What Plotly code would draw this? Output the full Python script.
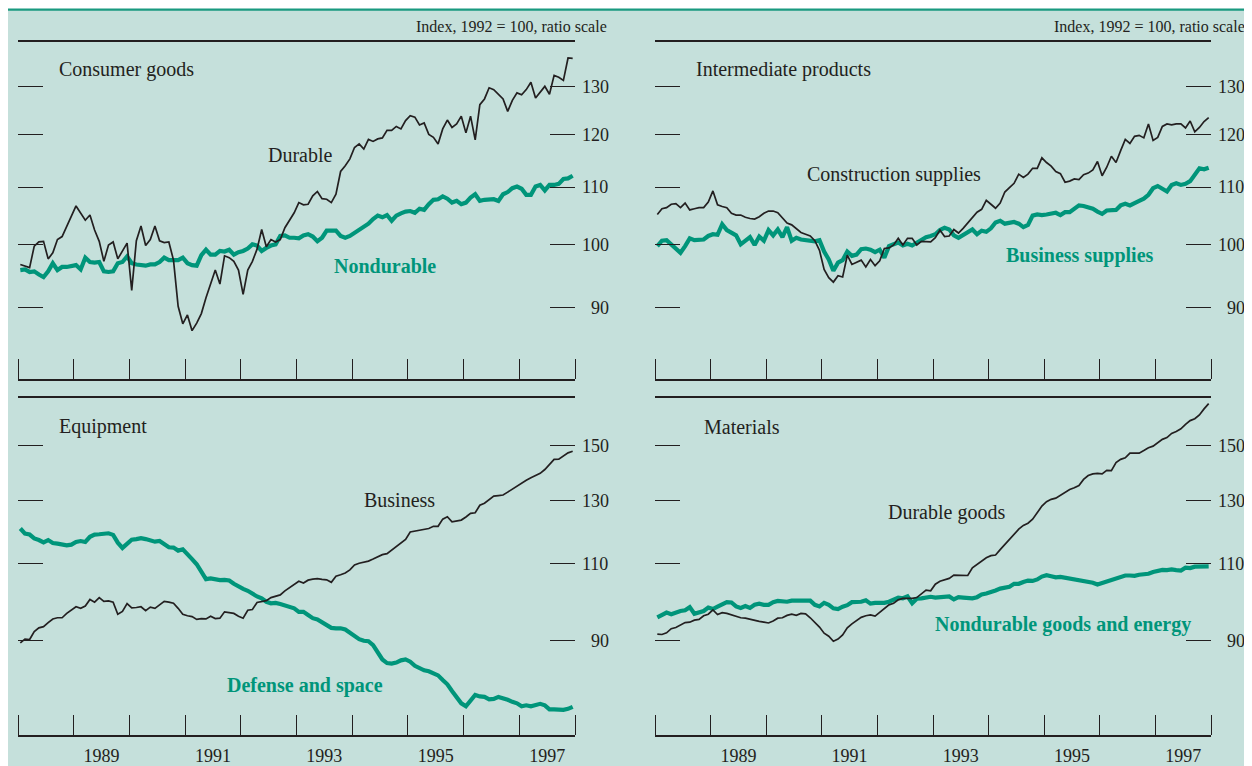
import math
import plotly.graph_objects as go

# The page body adds an 8 px white margin; the figure fills the rest of the window.
OFF = 8
W, H = 1252 - OFF, 766 - OFF

# ---------------- data (monthly, Jan 1988 - Dec 1997, index 1992=100) ----------------
consumer_durable = [
    96.7, 96.4, 96.2, 99.7, 100.4, 100.5, 97.6, 98.6, 100.8, 101.3,
    103.2, 104.8, 106.6, 105.4, 104.1, 105.0, 102.4, 100.5, 97.2, 99.9,
    100.4, 97.6, 99.0, 100.2, 92.6, 100.6, 103.1, 99.8, 100.8, 103.1,
    100.6, 100.3, 100.4, 97.4, 90.2, 87.6, 88.9, 86.6, 87.7, 89.1,
    91.5, 93.8, 95.8, 93.6, 98.1, 97.8, 97.2, 95.8, 92.0, 95.8,
    97.2, 99.2, 102.5, 99.6, 100.8, 100.4, 100.8, 102.8, 104.0, 105.4,
    107.2, 106.8, 106.9, 108.4, 109.2, 107.9, 107.8, 107.2, 108.7, 112.9,
    114.0, 115.3, 117.5, 118.2, 117.2, 119.1, 118.7, 119.2, 119.4, 120.9,
    120.9, 121.7, 121.2, 122.9, 123.9, 123.6, 122.0, 122.4, 120.1, 119.5,
    118.2, 121.2, 123.0, 121.5, 122.2, 123.8, 120.4, 123.8, 119.0, 126.2,
    127.4, 129.8, 129.4, 128.5, 127.4, 124.8, 127.1, 128.7, 128.3, 129.4,
    131.0, 127.6, 128.9, 130.1, 128.4, 132.5, 132.1, 131.4, 136.4, 136.3,
]
consumer_nondurable = [
    95.8, 95.9, 95.5, 95.6, 95.1, 94.7, 95.6, 96.9, 95.8, 96.3,
    96.3, 96.5, 96.6, 95.9, 97.8, 97.1, 97.0, 97.1, 95.6, 95.5,
    95.6, 96.9, 97.1, 98.0, 96.9, 96.7, 96.6, 96.5, 96.7, 96.7,
    97.1, 97.8, 97.4, 97.4, 97.4, 97.8, 96.9, 96.6, 96.5, 98.2,
    99.1, 98.3, 98.3, 98.9, 98.8, 99.1, 98.3, 98.7, 98.9, 99.3,
    100.0, 99.8, 98.9, 99.4, 99.8, 100.0, 101.4, 101.5, 101.1, 101.1,
    101.0, 101.5, 101.7, 101.3, 100.5, 101.1, 102.3, 102.3, 102.3, 101.4,
    101.1, 101.4, 101.9, 102.4, 103.1, 103.5, 104.3, 104.9, 104.6, 105.0,
    104.0, 104.9, 105.3, 105.6, 105.7, 105.4, 106.1, 105.9, 106.9, 107.7,
    107.8, 108.3, 107.9, 107.2, 107.5, 106.9, 107.2, 108.1, 108.7, 107.5,
    107.7, 107.8, 107.8, 107.5, 108.7, 109.1, 109.8, 110.1, 109.7, 108.6,
    108.6, 110.1, 110.4, 109.4, 110.4, 110.4, 110.6, 111.5, 111.6, 112.1,
]
construction_supplies = [
    105.1, 106.1, 106.3, 106.9, 107.0, 106.3, 107.1, 105.9, 106.1, 106.3,
    106.3, 107.3, 109.3, 106.8, 106.5, 106.3, 105.3, 105.0, 105.0, 104.6,
    104.4, 104.3, 104.7, 105.3, 105.7, 105.7, 105.4, 104.4, 103.6, 103.3,
    102.7, 102.0, 101.7, 101.4, 100.6, 99.0, 95.9, 94.6, 93.9, 94.9,
    94.7, 98.2, 96.7, 97.1, 97.4, 96.3, 97.5, 96.5, 97.3, 99.3,
    99.4, 99.9, 101.0, 99.9, 101.0, 101.0, 99.9, 100.5, 100.5, 100.4,
    101.1, 102.4, 101.3, 101.4, 102.5, 101.9, 102.7, 103.6, 104.5, 105.5,
    106.0, 107.6, 106.9, 106.2, 107.1, 109.1, 109.9, 110.7, 112.4, 111.8,
    112.4, 113.5, 113.5, 115.5, 114.6, 113.9, 112.9, 112.5, 110.9, 111.1,
    111.5, 111.4, 112.3, 112.6, 113.2, 114.8, 112.1, 113.7, 115.8, 114.6,
    116.9, 119.1, 118.3, 119.7, 119.9, 119.4, 122.2, 118.9, 119.5, 121.7,
    122.2, 122.0, 122.2, 122.2, 121.4, 122.8, 120.6, 121.5, 122.7, 123.5,
]
business_supplies = [
    99.7, 100.6, 100.7, 100.0, 99.2, 98.6, 99.7, 101.0, 100.7, 100.7,
    100.8, 101.4, 101.7, 101.6, 103.4, 102.4, 101.9, 101.5, 100.0, 100.5,
    101.2, 99.9, 101.3, 100.6, 102.4, 101.5, 102.5, 101.2, 102.9, 100.6,
    101.1, 100.8, 100.7, 100.6, 100.5, 100.7, 98.8, 97.5, 95.7, 97.0,
    97.4, 98.8, 98.1, 98.3, 99.2, 99.3, 99.1, 98.7, 99.1, 97.8,
    99.7, 100.0, 100.3, 99.8, 100.1, 99.8, 100.3, 100.8, 101.2, 101.4,
    101.7, 102.4, 102.8, 102.5, 101.5, 101.1, 101.5, 101.9, 102.5, 101.7,
    102.3, 102.1, 102.7, 103.7, 104.0, 103.5, 103.7, 103.8, 103.5, 102.9,
    103.3, 104.9, 105.1, 105.0, 105.1, 105.2, 105.4, 105.0, 105.5, 105.5,
    106.0, 106.7, 106.6, 106.3, 106.1, 105.6, 105.2, 105.8, 105.9, 105.9,
    106.7, 107.0, 106.7, 107.0, 107.5, 107.9, 108.6, 109.8, 110.2, 109.7,
    109.2, 110.4, 110.7, 110.4, 110.6, 111.1, 112.2, 113.5, 113.3, 113.6,
]
equipment_business = [
    89.4, 90.3, 90.2, 92.1, 93.0, 93.3, 94.3, 95.2, 95.5, 95.5,
    96.6, 97.5, 98.3, 97.9, 98.5, 100.2, 99.5, 100.7, 99.7, 99.8,
    99.5, 96.4, 97.1, 99.1, 98.0, 98.1, 98.3, 97.3, 98.2, 97.9,
    98.8, 99.7, 99.5, 99.2, 97.9, 96.4, 96.0, 95.8, 95.1, 95.3,
    95.2, 95.9, 95.3, 95.4, 97.0, 96.8, 96.6, 95.9, 95.4, 97.4,
    97.6, 99.4, 99.6, 99.9, 100.7, 101.0, 101.4, 102.5, 103.4, 104.1,
    105.1, 104.6, 105.4, 105.7, 105.8, 105.6, 105.5, 104.8, 106.5, 106.9,
    107.4, 108.3, 109.7, 110.2, 110.5, 110.8, 111.4, 112.0, 112.7, 113.0,
    114.1, 115.2, 116.2, 117.3, 119.6, 119.9, 120.3, 120.4, 120.7, 121.4,
    121.4, 123.7, 124.5, 122.8, 123.0, 123.4, 124.4, 125.6, 125.8, 128.3,
    129.0, 130.3, 131.4, 131.6, 131.8, 132.8, 133.9, 134.9, 136.0, 137.0,
    137.9, 138.6, 139.5, 140.9, 142.9, 144.7, 144.8, 146.1, 147.2, 147.8,
]
defense_space = [
    120.7, 119.1, 118.8, 117.6, 117.1, 116.4, 117.1, 116.2, 116.0, 115.8,
    115.5, 115.7, 116.5, 116.8, 116.5, 118.1, 118.8, 118.9, 118.9, 119.2,
    118.7, 116.3, 114.7, 115.9, 117.2, 117.4, 117.7, 117.4, 117.0, 116.6,
    116.8, 115.7, 114.9, 114.8, 113.9, 114.3, 113.0, 111.4, 109.9, 107.5,
    105.7, 105.9, 105.5, 105.4, 105.5, 105.3, 104.4, 103.6, 103.0, 102.5,
    101.7, 101.0, 100.5, 99.6, 99.2, 99.3, 99.0, 98.6, 98.3, 97.9,
    97.0, 97.0, 96.2, 95.4, 95.1, 94.4, 93.6, 93.0, 92.9, 92.9,
    92.6, 91.8, 91.1, 90.3, 89.9, 89.8, 88.9, 87.1, 85.6, 84.8,
    84.7, 84.9, 85.4, 85.6, 85.1, 84.2, 83.6, 83.2, 83.0, 82.6,
    82.1, 81.1, 80.2, 78.8, 77.6, 76.3, 75.7, 77.0, 78.0, 77.7,
    77.6, 77.1, 77.2, 77.6, 77.4, 77.0, 76.6, 76.3, 75.7, 75.9,
    75.7, 75.9, 76.2, 75.9, 75.1, 75.1, 75.0, 75.0, 75.2, 75.6,
]
materials_durable = [
    91.5, 91.4, 91.8, 92.8, 93.1, 93.6, 94.3, 94.4, 94.9, 95.1,
    96.0, 96.4, 97.5, 96.3, 96.8, 96.6, 96.2, 95.9, 95.5, 95.4,
    95.1, 94.8, 94.6, 94.4, 94.2, 94.7, 95.4, 95.5, 96.1, 96.4,
    96.1, 96.6, 96.5, 95.5, 94.3, 93.2, 91.7, 91.0, 89.8, 90.3,
    91.3, 93.0, 94.0, 94.8, 95.6, 96.0, 96.2, 95.9, 96.9, 97.7,
    98.8, 99.2, 100.1, 100.5, 100.5, 100.5, 100.7, 101.8, 102.7, 102.5,
    104.3, 105.1, 105.6, 105.9, 106.8, 106.8, 106.6, 106.7, 108.9, 109.8,
    110.7, 111.8, 112.4, 112.6, 114.2, 115.7, 117.5, 118.7, 120.5, 121.7,
    122.4, 123.7, 125.8, 128.0, 129.5, 130.3, 130.7, 131.8, 132.7, 133.7,
    134.3, 135.1, 137.3, 138.7, 139.3, 139.5, 139.3, 140.6, 140.5, 143.5,
    144.7, 145.3, 147.1, 147.1, 147.1, 148.1, 149.2, 149.8, 151.0, 152.5,
    153.2, 154.9, 155.7, 156.8, 158.6, 160.2, 161.0, 162.6, 165.2, 167.5,
]
materials_nondurable = [
    95.6, 96.2, 96.8, 96.4, 96.9, 97.2, 97.4, 98.2, 96.5, 96.9,
    97.2, 98.1, 97.7, 98.3, 98.9, 99.5, 99.4, 98.4, 98.0, 98.5,
    98.0, 98.8, 99.1, 98.8, 98.8, 99.5, 99.8, 99.8, 99.6, 99.9,
    99.9, 100.0, 100.1, 99.9, 98.8, 98.4, 99.3, 98.8, 97.9, 97.7,
    98.3, 98.7, 99.5, 99.6, 99.6, 100.0, 99.1, 99.3, 99.3, 99.3,
    99.6, 100.1, 100.7, 100.5, 101.0, 99.2, 100.4, 100.5, 100.7, 100.9,
    100.7, 100.8, 100.8, 101.0, 100.2, 100.8, 100.7, 100.5, 100.5, 100.8,
    101.5, 101.8, 102.1, 102.6, 103.1, 103.3, 103.6, 104.4, 104.4, 104.9,
    105.3, 105.2, 105.6, 106.4, 106.8, 106.5, 106.2, 106.3, 106.1, 105.7,
    105.6, 105.5, 105.3, 104.9, 104.7, 104.2, 104.6, 105.1, 105.5, 106.1,
    106.4, 106.7, 106.7, 106.6, 106.9, 107.0, 107.2, 107.7, 108.0, 108.3,
    108.2, 108.4, 108.2, 108.1, 108.9, 108.8, 109.2, 109.3, 109.3, 109.3,
]

top_ticks = [90, 100, 110, 120, 130]
bottom_ticks = [90, 110, 130, 150]
year_ticks = [1989.5, 1991.5, 1993.5, 1995.5, 1997.5]
year_labels = ["1989", "1991", "1993", "1995", "1997"]
panel_titles = ["Consumer goods", "Intermediate products", "Equipment", "Materials"]
scale_note = "Index, 1992 = 100, ratio scale"

# ---------------- style ----------------
BG = "#c5e0db"
TEAL = "#00957a"
INK = "#231f20"
FONT = "Liberation Serif, Times New Roman, serif"


def months(vals):
    return [1988 + (i + 0.5) / 12 for i in range(len(vals))]


def fig_label(v):
    s = str(v)
    return ("\u2007" + s) if len(s) == 2 else s


def PX(px):   # window pixel -> paper x
    return (px - OFF) / W


def PY(py):   # window pixel (from top) -> paper y
    return 1 - (py - OFF) / H


panels = [
    dict(box=(18, 575, 42, 380), yr=(79.9, 140.1), ticks=top_ticks, years=False,
         teal=consumer_nondurable, black=consumer_durable),
    dict(box=(655, 1211, 42, 380), yr=(79.9, 140.1), ticks=top_ticks, years=False,
         teal=business_supplies, black=construction_supplies),
    dict(box=(18, 575, 399, 737), yr=(70.2, 170.0), ticks=bottom_ticks, years=True,
         teal=defense_space, black=equipment_business),
    dict(box=(655, 1211, 399, 737), yr=(70.2, 170.0), ticks=bottom_ticks, years=True,
         teal=materials_nondurable, black=materials_durable),
]

fig = go.Figure()
layout = {}
for i, p in enumerate(panels, start=1):
    sfx = "" if i == 1 else str(i)
    x0, x1, y0, y1 = p["box"]
    fig.add_trace(go.Scatter(x=months(p["teal"]), y=p["teal"], mode="lines",
                             line=dict(color=TEAL, width=4.2), xaxis="x" + sfx, yaxis="y" + sfx,
                             showlegend=False, hoverinfo="skip"))
    fig.add_trace(go.Scatter(x=months(p["black"]), y=p["black"], mode="lines",
                             line=dict(color=INK, width=1.7), xaxis="x" + sfx, yaxis="y" + sfx,
                             showlegend=False, hoverinfo="skip"))
    layout["xaxis" + sfx] = dict(
        domain=[PX(x0), PX(x1)], anchor="y" + sfx, range=[1988, 1998],
        showgrid=False, zeroline=False, showline=True, mirror=True,
        linecolor=INK, linewidth=1.6,
        tickmode="array", tickvals=year_ticks, ticktext=year_labels,
        ticks="", showticklabels=p["years"], ticklabelstandoff=4,
        tickfont=dict(family=FONT, size=18, color=INK),
        minor=dict(tickmode="linear", tick0=1988, dtick=1, ticks="inside",
                   ticklen=20, tickwidth=1.2, tickcolor=INK),
    )
    layout["yaxis" + sfx] = dict(
        domain=[PY(y1), PY(y0)], anchor="x" + sfx, type="log",
        range=[math.log10(p["yr"][0]), math.log10(p["yr"][1])],
        side="right", showgrid=False, zeroline=False, showline=False,
        tickmode="array", tickvals=p["ticks"], ticktext=[fig_label(t) for t in p["ticks"]],
        ticks="inside", ticklen=25, tickwidth=1.2, tickcolor=INK, mirror="ticks",
        ticklabelstandoff=6,
        tickfont=dict(family=FONT, size=18, color=INK),
    )

annotations = []


def text(s, px, py, anchor, size, color=INK, bold=False):
    annotations.append(dict(
        text=("<b>%s</b>" % s) if bold else s, x=PX(px), y=PY(py), xref="paper", yref="paper",
        xanchor=anchor, yanchor="middle", showarrow=False,
        font=dict(family=FONT, size=size, color=color)))


text(scale_note, 609, 27, "right", 16)
text(scale_note, 1247, 27, "right", 16)
text(panel_titles[0], 57, 70, "left", 20)
text(panel_titles[1], 694, 70, "left", 20)
text(panel_titles[2], 57, 428, "left", 20)
text(panel_titles[3], 702, 428, "left", 20)
text("Durable", 300, 155, "center", 20)
text("Nondurable", 385, 267, "center", 20, TEAL, True)
text("Construction supplies", 894, 175, "center", 20)
text("Business supplies", 1080, 256, "center", 20, TEAL, True)
text("Business", 399, 501, "center", 20)
text("Defense and space", 305, 687, "center", 20, TEAL, True)
text("Durable goods", 946, 514, "center", 20)
text("Nondurable goods and energy", 1063, 626, "center", 20, TEAL, True)

shapes = [
    dict(type="rect", xref="paper", yref="paper", x0=0, x1=1, y0=PY(9.6), y1=1,
         fillcolor="white", line=dict(width=0), layer="below"),
    dict(type="line", xref="paper", yref="paper", x0=0, x1=1, y0=PY(9.7), y1=PY(9.7),
         line=dict(color="#1a9a80", width=2.2), layer="below"),
]

fig.update_layout(
    width=W, height=H, margin=dict(l=0, r=0, t=0, b=0),
    paper_bgcolor=BG, plot_bgcolor="rgba(0,0,0,0)",
    showlegend=False, annotations=annotations, shapes=shapes,
    font=dict(family=FONT, color=INK),
    **layout,
)

fig.write_html("out.html")
